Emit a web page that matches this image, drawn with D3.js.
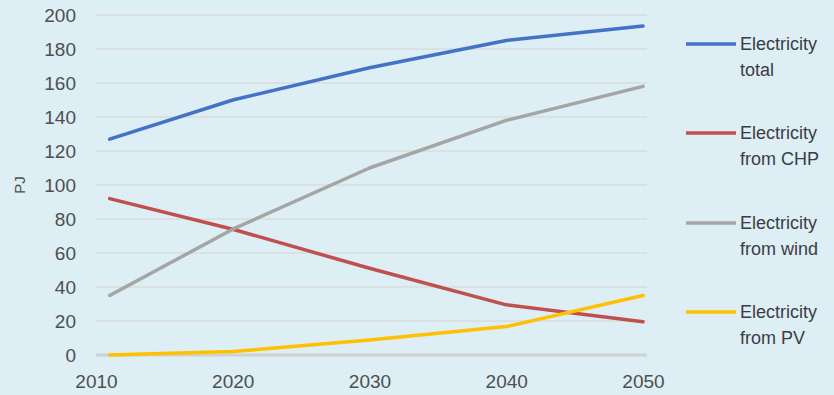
<!DOCTYPE html>
<html>
<head>
<meta charset="utf-8">
<script src="https://cdn.jsdelivr.net/npm/d3@7"></script>
<style>
  html, body { margin: 0; padding: 0; background: #ddeef4; }
  svg { display: block; }
</style>
</head>
<body>
<svg id="chart" width="834" height="395"></svg>
<script>
// Electricity production outlook (PJ)
const years = [2011, 2020, 2030, 2040, 2050];
const electricityTotal = [127, 150, 169, 185, 193.5];
const electricityCHP   = [92, 74, 51, 29.5, 19.5];
const electricityWind  = [35, 74, 110, 138, 158];
const electricityPV    = [0, 2, 8.8, 16.7, 35];

const xTicks = [2010, 2020, 2030, 2040, 2050];
const yTicks = [0, 20, 40, 60, 80, 100, 120, 140, 160, 180, 200];

const seriesNames  = [["Electricity", "total"], ["Electricity", "from CHP"], ["Electricity", "from wind"], ["Electricity", "from PV"]];
const seriesValues = [electricityTotal, electricityCHP, electricityWind, electricityPV];
const seriesColors = ["#4472c4", "#c0504d", "#a5a5a5", "#ffc000"];

const svg = d3.select("#chart");
const plot = { left: 96, right: 647, top: 15, bottom: 355 };

const x = d3.scaleLinear().domain([2010, 2050]).range([plot.left, 643]);
const y = d3.scaleLinear().domain([0, 200]).range([plot.bottom, plot.top]);

const fontFamily = "'Liberation Sans', Arial, sans-serif";
const labelColor = "#4f4f4f";

// horizontal gridlines
svg.append("g")
  .selectAll("line")
  .data(yTicks.filter(d => d !== 0))
  .join("line")
  .attr("x1", plot.left).attr("x2", plot.right)
  .attr("y1", d => y(d)).attr("y2", d => y(d))
  .attr("stroke", "#d9dcdc").attr("stroke-width", 1.5);

// baseline
svg.append("line")
  .attr("x1", plot.left).attr("x2", plot.right)
  .attr("y1", y(0)).attr("y2", y(0))
  .attr("stroke", "#d0d2d2").attr("stroke-width", 3);

// y axis labels
const yAxis = d3.axisLeft(y).tickValues(yTicks).tickSize(0).tickPadding(0);
svg.append("g")
  .attr("transform", `translate(76,0)`)
  .call(yAxis)
  .call(g => g.select(".domain").remove())
  .call(g => g.selectAll("text")
    .attr("fill", labelColor)
    .style("font-family", fontFamily)
    .style("font-size", "19px"));

// x axis labels
const xAxis = d3.axisBottom(x).tickValues(xTicks).tickFormat(d3.format("d")).tickSize(0).tickPadding(0);
svg.append("g")
  .attr("transform", `translate(0,${plot.bottom + 19})`)
  .call(xAxis)
  .call(g => g.select(".domain").remove())
  .call(g => g.selectAll("text")
    .attr("fill", labelColor)
    .style("font-family", fontFamily)
    .style("font-size", "19px"));

// axis title
svg.append("text")
  .attr("transform", `translate(25,${y(100)}) rotate(-90)`)
  .attr("text-anchor", "middle")
  .attr("fill", labelColor)
  .style("font-family", fontFamily)
  .style("font-size", "15px")
  .text("PJ");

// series lines
const line = d3.line()
  .x((d, i) => x(years[i]))
  .y(d => y(d));

svg.append("g")
  .selectAll("path")
  .data(seriesValues)
  .join("path")
  .attr("d", d => line(d))
  .attr("fill", "none")
  .attr("stroke", (d, i) => seriesColors[i])
  .attr("stroke-width", 3.5)
  .attr("stroke-linejoin", "round")
  .attr("stroke-linecap", "round");

// legend
const legendY = [44, 133, 223, 312];
const legend = svg.append("g")
  .selectAll("g")
  .data(seriesNames)
  .join("g")
  .attr("transform", (d, i) => `translate(686,${legendY[i]})`);

legend.append("line")
  .attr("x1", 0).attr("x2", 50)
  .attr("stroke", (d, i) => seriesColors[i])
  .attr("stroke-width", 3.5);

legend.append("text")
  .attr("x", 54)
  .attr("fill", "#3c3c46")
  .style("font-family", fontFamily)
  .style("font-size", "18px")
  .selectAll("tspan")
  .data(d => d)
  .join("tspan")
  .attr("x", 54)
  .attr("y", (d, i) => i * 26 + 6)
  .text(d => d);
</script>
</body>
</html>
